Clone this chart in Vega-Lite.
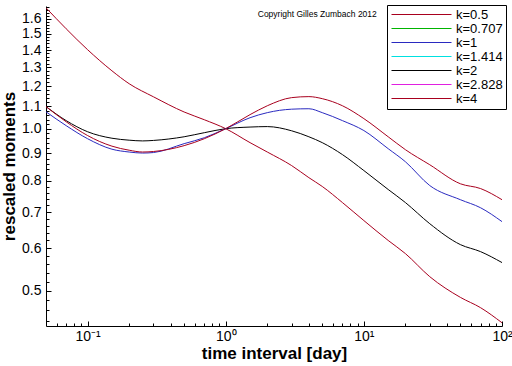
{
 "$schema": "https://vega.github.io/schema/vega-lite/v6.json",
 "width": 456, "height": 320,
 "autosize": {"type": "none"},
 "padding": {"left": 46, "top": 6, "right": 10, "bottom": 40},
 "background": "white",
 "config": {"view": {"stroke": null}, "font": "Liberation Sans"},
 "datasets": {
  "curves": [
   {"k":"k=0.5","tau":0.05,"m":1.677},{"k":"k=0.5","tau":0.07,"m":1.533},{"k":"k=0.5","tau":0.1,"m":1.402},{"k":"k=0.5","tau":0.15,"m":1.281},{"k":"k=0.5","tau":0.2,"m":1.212},{"k":"k=0.5","tau":0.3,"m":1.146},{"k":"k=0.5","tau":0.5,"m":1.074},{"k":"k=0.5","tau":0.7,"m":1.039},{"k":"k=0.5","tau":1,"m":1.0},{"k":"k=0.5","tau":1.5,"m":0.942},{"k":"k=0.5","tau":2,"m":0.905},{"k":"k=0.5","tau":3,"m":0.854},{"k":"k=0.5","tau":4,"m":0.811},{"k":"k=0.5","tau":5,"m":0.781},{"k":"k=0.5","tau":7,"m":0.729},{"k":"k=0.5","tau":10,"m":0.675},{"k":"k=0.5","tau":15,"m":0.620},{"k":"k=0.5","tau":20,"m":0.586},{"k":"k=0.5","tau":30,"m":0.531},{"k":"k=0.5","tau":50,"m":0.486},{"k":"k=0.5","tau":70,"m":0.465},{"k":"k=0.5","tau":100,"m":0.436},
   {"k":"k=2","tau":0.05,"m":1.099},{"k":"k=2","tau":0.07,"m":1.035},{"k":"k=2","tau":0.1,"m":0.987},{"k":"k=2","tau":0.15,"m":0.960},{"k":"k=2","tau":0.2,"m":0.952},{"k":"k=2","tau":0.25,"m":0.949},{"k":"k=2","tau":0.3,"m":0.951},{"k":"k=2","tau":0.5,"m":0.966},{"k":"k=2","tau":0.7,"m":0.983},{"k":"k=2","tau":1,"m":1.0},{"k":"k=2","tau":1.5,"m":1.007},{"k":"k=2","tau":2,"m":1.009},{"k":"k=2","tau":3,"m":0.991},{"k":"k=2","tau":4,"m":0.966},{"k":"k=2","tau":5,"m":0.942},{"k":"k=2","tau":7,"m":0.895},{"k":"k=2","tau":10,"m":0.836},{"k":"k=2","tau":15,"m":0.771},{"k":"k=2","tau":20,"m":0.729},{"k":"k=2","tau":30,"m":0.666},{"k":"k=2","tau":50,"m":0.609},{"k":"k=2","tau":70,"m":0.591},{"k":"k=2","tau":100,"m":0.564},
   {"k":"k=1","tau":0.05,"m":1.075},{"k":"k=1","tau":0.07,"m":1.013},{"k":"k=1","tau":0.1,"m":0.958},{"k":"k=1","tau":0.15,"m":0.916},{"k":"k=1","tau":0.2,"m":0.905},{"k":"k=1","tau":0.25,"m":0.901},{"k":"k=1","tau":0.3,"m":0.903},{"k":"k=1","tau":0.5,"m":0.938},{"k":"k=1","tau":0.7,"m":0.962},{"k":"k=1","tau":1,"m":1.0},{"k":"k=1","tau":1.5,"m":1.048},{"k":"k=1","tau":2,"m":1.071},{"k":"k=1","tau":3,"m":1.087},{"k":"k=1","tau":4,"m":1.089},{"k":"k=1","tau":5,"m":1.071},{"k":"k=1","tau":7,"m":1.035},{"k":"k=1","tau":10,"m":0.992},{"k":"k=1","tau":15,"m":0.918},{"k":"k=1","tau":20,"m":0.868},{"k":"k=1","tau":30,"m":0.784},{"k":"k=1","tau":50,"m":0.738},{"k":"k=1","tau":70,"m":0.713},{"k":"k=1","tau":100,"m":0.672},
   {"k":"k=4","tau":0.05,"m":1.099},{"k":"k=4","tau":0.07,"m":1.030},{"k":"k=4","tau":0.1,"m":0.971},{"k":"k=4","tau":0.15,"m":0.928},{"k":"k=4","tau":0.2,"m":0.912},{"k":"k=4","tau":0.25,"m":0.905},{"k":"k=4","tau":0.3,"m":0.907},{"k":"k=4","tau":0.5,"m":0.930},{"k":"k=4","tau":0.7,"m":0.958},{"k":"k=4","tau":1,"m":1.0},{"k":"k=4","tau":1.5,"m":1.062},{"k":"k=4","tau":2,"m":1.103},{"k":"k=4","tau":3,"m":1.142},{"k":"k=4","tau":4,"m":1.147},{"k":"k=4","tau":5,"m":1.137},{"k":"k=4","tau":7,"m":1.103},{"k":"k=4","tau":10,"m":1.044},{"k":"k=4","tau":15,"m":0.966},{"k":"k=4","tau":20,"m":0.914},{"k":"k=4","tau":30,"m":0.857},{"k":"k=4","tau":50,"m":0.790},{"k":"k=4","tau":70,"m":0.774},{"k":"k=4","tau":100,"m":0.738}
  ]
 },
 "layer": [
  {
   "data": {"name": "curves"},
   "mark": {"type": "line", "strokeWidth": 1, "interpolate": "monotone", "clip": true},
   "encoding": {
    "x": {"field": "tau", "type": "quantitative",
     "scale": {"type": "log", "domain": [0.05, 100], "nice": false},
     "axis": {"values": [0.1, 1, 10, 100],
      "labelExpr": "datum.value < 0.5 ? '10⁻¹' : datum.value < 5 ? '10⁰' : datum.value < 50 ? '10¹' : '10²'",
      "title": "time interval [day]", "grid": false, "tickSize": -5, "labelPadding": 8,
      "domainColor": "black", "tickColor": "black", "labelColor": "black", "titleColor": "black",
      "labelFontSize": 14, "labelFont": "Liberation Sans", "titleFont": "Liberation Sans",
      "titleFontSize": 17, "titleFontWeight": "bold", "titlePadding": 2, "labelFlush": false}},
    "y": {"field": "m", "type": "quantitative",
     "scale": {"type": "log", "domain": [0.43, 1.69], "nice": false},
     "axis": {"values": [0.5, 0.6, 0.7, 0.8, 0.9, 1.0, 1.1, 1.2, 1.3, 1.4, 1.5, 1.6],
      "format": ".1f", "title": "rescaled moments", "grid": false, "tickSize": -5, "labelPadding": 10,
      "domainColor": "black", "tickColor": "black", "labelColor": "black", "titleColor": "black",
      "labelFontSize": 14, "labelFont": "Liberation Sans", "titleFont": "Liberation Sans",
      "titleFontSize": 17, "titleFontWeight": "bold", "titlePadding": 3, "labelFlush": false}},
    "color": {"field": "k", "type": "nominal",
     "scale": {"domain": ["k=0.5", "k=0.707", "k=1", "k=1.414", "k=2", "k=2.828", "k=4"],
      "range": ["#a8001e", "#00b400", "#2a2ac0", "#00e0e0", "#000000", "#e020e0", "#a8001e"]},
     "legend": {"orient": "none", "legendX": 341, "legendY": -1, "title": null,
      "strokeColor": "black", "fillColor": "white", "padding": 3,
      "symbolType": "M-1,0H11", "symbolSize": 100, "symbolStrokeWidth": 1,
      "labelFontSize": 13, "labelFont": "Liberation Sans", "labelColor": "black",
      "labelOffset": 53, "rowPadding": 0,
      "encode": {"symbols": {"update": {"stroke": {"scale": "color", "field": "value"}, "fill": {"value": "transparent"}, "strokeWidth": {"value": 1}}}}}}
   }
  },
  {
   "data": {"values": [{"tau": 4.6, "m": 1.63, "label": "Copyright Gilles Zumbach 2012"}]},
   "mark": {"type": "text", "fontSize": 8.5, "font": "Liberation Sans", "align": "center", "baseline": "middle", "color": "black"},
   "encoding": {
    "x": {"field": "tau", "type": "quantitative",
     "scale": {"type": "log", "domain": [0.05, 100], "nice": false},
     "axis": {"orient": "bottom", "values": [0.06, 0.07, 0.08, 0.09, 0.2, 0.3, 0.4, 0.5, 0.6, 0.7, 0.8, 0.9, 2, 3, 4, 5, 6, 7, 8, 9, 20, 30, 40, 50, 60, 70, 80, 90],
      "labels": false, "domain": false, "grid": false, "title": null, "tickSize": -3, "tickColor": "black"}},
    "y": {"field": "m", "type": "quantitative",
     "scale": {"type": "log", "domain": [0.43, 1.69], "nice": false},
     "axis": {"orient": "left", "values": [0.44, 0.46, 0.48, 0.52, 0.54, 0.56, 0.58, 0.62, 0.64, 0.66, 0.68, 0.72, 0.74, 0.76, 0.78, 0.82, 0.84, 0.86, 0.88, 0.92, 0.94, 0.96, 0.98, 1.02, 1.04, 1.06, 1.08, 1.12, 1.14, 1.16, 1.18, 1.22, 1.24, 1.26, 1.28, 1.32, 1.34, 1.36, 1.38, 1.42, 1.44, 1.46, 1.48, 1.52, 1.54, 1.56, 1.58, 1.62, 1.64, 1.66, 1.68],
      "labels": false, "domain": false, "grid": false, "title": null, "tickSize": -3, "tickColor": "black"}},
    "text": {"field": "label"}
   }
  }
 ],
 "resolve": {"axis": {"x": "independent", "y": "independent"}}
}
